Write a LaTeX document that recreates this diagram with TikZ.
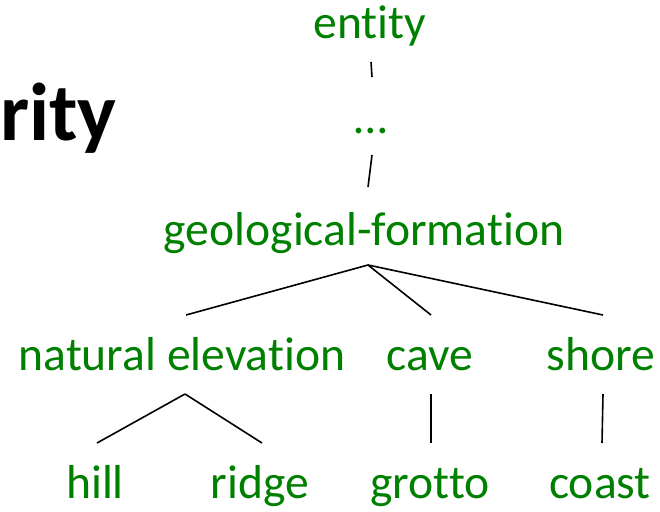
\documentclass[tikz,border=0pt]{standalone}
\usepackage{fontspec}
\setmainfont{Carlito}[Ligatures={NoCommon}]
\usetikzlibrary{calc}
\definecolor{termgreen}{RGB}{0,128,0}
\begin{document}
\begin{tikzpicture}[x=1pt,y=-1pt,
  term/.style={text=termgreen,font=\fontsize{47.6}{50}\selectfont,anchor=base,inner sep=0pt},
  edge/.style={draw=black,line width=1.6pt}]
\useasboundingbox (0,0) rectangle (660,511);
\node[anchor=base east,inner sep=0pt,font=\bfseries\fontsize{82}{85}\selectfont] (title) at (117,140) {rity};
\node[term] (entity) at (370,38) {entity};
\node[term] (dots) at (371,133) {…};
\node[term] (geo) at (364,245) {geological-formation};
\node[term] (nat) at (182,370) {natural elevation};
\node[term] (cave) at (430,370) {cave};
\node[term] (shore) at (601,370) {shore};
\node[term] (hill) at (95,498) {hill};
\node[term] (ridge) at (260,498) {ridge};
\node[term] (grotto) at (430,498) {grotto};
\node[term] (coast) at (600,498) {coast};
% connector end points
\coordinate (e1) at (371,62);  \coordinate (e2) at (372,77);
\coordinate (d1) at (372,155); \coordinate (d2) at (368,187);
\coordinate (gr) at (368,265);
\coordinate (nt) at (186,315); \coordinate (ct) at (431,315); \coordinate (st) at (603,315);
\coordinate (nb) at (185,394);
\coordinate (ht) at (97,443);  \coordinate (rt) at (262,443);
\coordinate (cb) at (431,394); \coordinate (gt) at (431,443);
\coordinate (sb) at (603,394); \coordinate (kt) at (602,443);
\draw[edge] (e1) -- (e2);
\draw[edge] (d1) -- (d2);
\draw[edge] (gr) -- (nt);
\draw[edge] (gr) -- (ct);
\draw[edge] (gr) -- (st);
\draw[edge] (nb) -- (ht);
\draw[edge] (nb) -- (rt);
\draw[edge] (cb) -- (gt);
\draw[edge] (sb) -- (kt);
\end{tikzpicture}
\end{document}
